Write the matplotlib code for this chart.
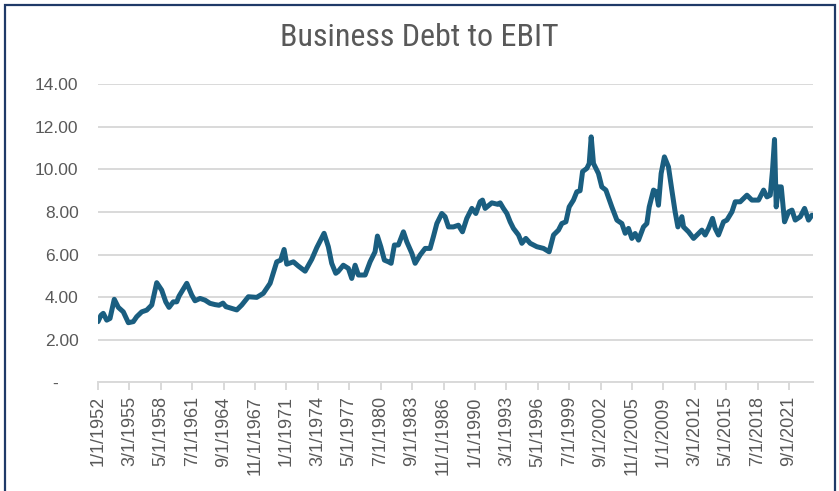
import matplotlib
matplotlib.use("Agg")
import matplotlib.pyplot as plt
from matplotlib.patches import Rectangle
from matplotlib import font_manager

# ---------------- data ----------------
years = [
    1952.00, 1952.30, 1952.53, 1952.88, 1953.21, 1953.64, 1954.05, 1954.55, 1955.06, 1955.56,
    1955.90, 1956.41, 1956.91, 1957.42, 1957.92, 1958.42, 1958.83, 1959.16, 1959.59, 1959.94,
    1960.17, 1960.95, 1961.45, 1961.78, 1962.29, 1962.79, 1963.29, 1963.80, 1964.20, 1964.60,
    1964.90, 1965.14, 1965.99, 1966.49, 1967.16, 1968.00, 1968.67, 1969.35, 1970.02, 1970.42,
    1970.76, 1971.03, 1971.70, 1972.20, 1972.88, 1973.55, 1974.06, 1974.79, 1975.22, 1975.56,
    1975.97, 1976.20, 1976.73, 1977.24, 1977.58, 1977.92, 1978.25, 1978.93, 1979.43, 1979.93,
    1980.17, 1980.51, 1980.87, 1981.28, 1981.55, 1981.88, 1982.28, 1982.79, 1983.13, 1983.64,
    1983.97, 1984.47, 1984.98, 1985.48, 1985.81, 1986.16, 1986.66, 1986.99, 1987.33, 1987.83,
    1988.33, 1988.74, 1989.18, 1989.69, 1990.09, 1990.52, 1990.76, 1991.03, 1991.70, 1992.31,
    1992.54, 1992.87, 1993.22, 1993.55, 1993.88, 1994.39, 1994.73, 1995.13, 1995.57, 1996.24,
    1996.91, 1997.48, 1997.92, 1998.42, 1998.76, 1999.17, 1999.50, 1999.93, 2000.27, 2000.60,
    2000.85, 2001.28, 2001.52, 2001.72, 2001.95, 2002.45, 2002.79, 2003.20, 2003.80, 2004.31,
    2004.81, 2005.15, 2005.48, 2005.82, 2006.15, 2006.49, 2006.99, 2007.33, 2007.57, 2008.00,
    2008.27, 2008.50, 2008.77, 2009.10, 2009.51, 2009.85, 2010.18, 2010.46, 2010.86, 2011.03,
    2011.53, 2012.04, 2012.54, 2012.88, 2013.21, 2013.55, 2013.95, 2014.22, 2014.55, 2015.06,
    2015.40, 2015.91, 2016.24, 2016.74, 2017.42, 2017.92, 2018.59, 2019.10, 2019.44, 2019.77,
    2020.00, 2020.20, 2020.37, 2020.60, 2020.88, 2021.21, 2021.62, 2021.96, 2022.29, 2022.80,
    2023.23, 2023.63, 2023.97,
]
debt_to_ebit = [
    2.85, 3.15, 3.24, 2.92, 3.00, 3.90, 3.52, 3.31, 2.80, 2.85,
    3.08, 3.31, 3.39, 3.63, 4.68, 4.33, 3.78, 3.52, 3.78, 3.78,
    4.05, 4.65, 4.10, 3.83, 3.94, 3.86, 3.71, 3.65, 3.62, 3.72,
    3.55, 3.52, 3.40, 3.63, 4.02, 3.99, 4.18, 4.65, 5.66, 5.74,
    6.24, 5.55, 5.66, 5.46, 5.22, 5.78, 6.33, 7.00, 6.37, 5.59,
    5.12, 5.20, 5.50, 5.35, 4.88, 5.50, 5.04, 5.04, 5.66, 6.13,
    6.87, 6.37, 5.74, 5.66, 5.59, 6.45, 6.45, 7.07, 6.60, 6.06,
    5.59, 5.98, 6.29, 6.29, 6.84, 7.46, 7.93, 7.78, 7.30, 7.30,
    7.38, 7.07, 7.70, 8.17, 7.93, 8.48, 8.56, 8.17, 8.43, 8.36,
    8.43, 8.17, 7.93, 7.54, 7.23, 6.92, 6.53, 6.76, 6.53, 6.37,
    6.29, 6.13, 6.92, 7.15, 7.46, 7.54, 8.24, 8.56, 8.95, 9.00,
    9.90, 10.05, 10.28, 11.53, 10.28, 9.81, 9.18, 9.03, 8.24, 7.62,
    7.46, 7.00, 7.23, 6.76, 6.99, 6.68, 7.30, 7.46, 8.24, 9.03,
    8.95, 8.32, 9.81, 10.59, 10.12, 9.03, 8.01, 7.30, 7.78, 7.30,
    7.07, 6.76, 6.99, 7.15, 6.92, 7.23, 7.70, 7.23, 6.92, 7.54,
    7.62, 8.01, 8.48, 8.48, 8.79, 8.56, 8.56, 9.03, 8.71, 8.79,
    9.97, 11.41, 8.24, 9.18, 9.18, 7.54, 8.01, 8.09, 7.62, 7.78,
    8.17, 7.62, 7.85,
]
x_tick_labels = [
    "1/1/1952", "3/1/1955", "5/1/1958", "7/1/1961", "9/1/1964", "11/1/1967",
    "1/1/1971", "3/1/1974", "5/1/1977", "7/1/1980", "9/1/1983", "11/1/1986",
    "1/1/1990", "3/1/1993", "5/1/1996", "7/1/1999", "9/1/2002", "11/1/2005",
    "1/1/2009", "3/1/2012", "5/1/2015", "7/1/2018", "9/1/2021",
]
y_ticks = [0, 2, 4, 6, 8, 10, 12, 14]
y_tick_labels = ["-    ", "2.00", "4.00", "6.00", "8.00", "10.00", "12.00", "14.00"]
title = "Business Debt to EBIT"

# ---------------- styling ----------------
def pick(fams):
    avail = {f.name for f in font_manager.fontManager.ttflist}
    for f in fams:
        if f in avail:
            return f
    return "DejaVu Sans"

tick_font = pick(["Liberation Sans", "Arial", "DejaVu Sans"])
title_font = pick(["Liberation Sans Narrow", "Roboto Condensed", "Liberation Sans"])

grey_text = "#595959"
grid_col = "#D9D9D9"
line_col = "#1A5E80"

fig = plt.figure(figsize=(8.39, 4.91), dpi=100)
W, H = 839, 491
ax = fig.add_axes([98 / W, 1 - 382.3 / H, (813 - 98) / W, (382.3 - 84.3) / H])

ax.plot(years, debt_to_ebit, color=line_col, lw=3.6, solid_joinstyle="round",
        solid_capstyle="round", zorder=3)

ax.set_xlim(1952.0, 2024.08)
ax.set_ylim(0, 14)

ax.set_yticks(y_ticks)
ax.set_yticklabels(y_tick_labels)

def label_to_year(s):
    m, d, y = s.split("/")
    return int(y) + (int(m) - 1) / 12.0

ax.set_xticks([label_to_year(s) for s in x_tick_labels])
ax.set_xticklabels(x_tick_labels, rotation=90)

ax.grid(axis="y", color=grid_col, lw=1.4, zorder=0)
ax.set_axisbelow(True)
for side in ["top", "right", "left"]:
    ax.spines[side].set_visible(False)
ax.spines["bottom"].set_color(grid_col)
ax.spines["bottom"].set_linewidth(1.4)

ax.tick_params(axis="y", length=0, pad=14, labelsize=12.5, labelcolor=grey_text)
ax.tick_params(axis="x", length=6, width=1.4, color=grid_col, pad=4,
               labelsize=13, labelcolor=grey_text)
for lab in ax.get_xticklabels() + ax.get_yticklabels():
    lab.set_fontfamily(tick_font)

fig.text(0.5, 1 - 37 / H, title, ha="center", va="center", fontsize=23,
         color=grey_text, family=title_font)

# outer chart border
fig.add_artist(Rectangle((5 / W, -0.02), (835 - 5) / W, (H - 5) / H + 0.02,
                         transform=fig.transFigure, fill=False,
                         edgecolor="#1F3A68", lw=1.6))

fig.savefig("out.png", dpi=100)
